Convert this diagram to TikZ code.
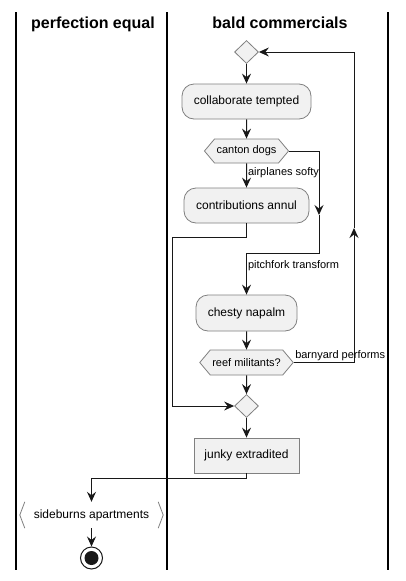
\documentclass[tikz,border=0pt]{standalone}
\usepackage{fontspec}
\setmainfont{Liberation Sans}
\usepackage{tikz}
\usetikzlibrary{arrows.meta}
\usetikzlibrary{shapes.geometric}
\usetikzlibrary{shapes.symbols}
\definecolor{boxfill}{HTML}{F1F1F1}
\definecolor{boxline}{HTML}{808080}
\definecolor{flowline}{HTML}{181818}
\tikzset{
	actstyle/.style={rectangle,rounded corners=12pt,draw=boxline,fill=boxfill,line width=0.8pt,minimum height=35pt,font=\fontsize{12}{14}\selectfont},
	boxstyle/.style={rectangle,draw=boxline,fill=boxfill,line width=0.8pt,minimum height=35pt,font=\fontsize{12}{14}\selectfont},
	hexstyle/.style={signal,signal to=east and west,signal pointer angle=100,draw=boxline,fill=boxfill,line width=0.8pt,inner sep=2pt,font=\fontsize{11}{13}\selectfont},
	diamstyle/.style={diamond,aspect=1,draw=boxline,fill=boxfill,line width=0.8pt,inner sep=0pt,minimum width=24pt,minimum height=23pt},
	sidestyle/.style={rectangle,minimum width=143pt,minimum height=26pt,font=\fontsize{12}{14}\selectfont},
	stopstyle/.style={circle,draw=flowline,fill=white,line width=1pt,minimum size=22pt,inner sep=0pt,
		path picture={\fill[flowline] (path picture bounding box.center) circle (7pt);}},
	headstyle/.style={font=\fontsize{16}{18}\selectfont\bfseries,anchor=base},
	lblstyle/.style={font=\fontsize{11}{13}\selectfont,inner sep=1pt},
	arr/.style={draw=flowline,line width=1pt,-{Stealth[length=10pt,width=9pt,inset=3.5pt]}},
	flow/.style={draw=flowline,line width=1pt},
	lanestyle/.style={draw=black,line width=1.5pt}
}
\begin{document}
\begin{tikzpicture}[x=1pt,y=-1pt]
		\useasboundingbox[fill=white] (0,0) rectangle (406,581);
		% swimlanes
		\draw[lanestyle] (16,12) -- (16,570);
		\draw[lanestyle] (167,12) -- (167,570);
		\draw[lanestyle] (388,12) -- (388,570);
		\node[headstyle] (h1) at (93,28) {perfection equal};
		\node[headstyle] (h2) at (280,28) {bald commercials};
		% activities
		\node[diamstyle] (m1) at (246.5,52) {};
		\node[actstyle,minimum width=129pt] (collab) at (246.5,101.5) {collaborate tempted};
		\node[hexstyle,minimum height=24pt] (canton) at (246.5,151) {canton dogs};
		\node[actstyle,minimum width=125pt] (contrib) at (246.5,205.5) {contributions annul};
		\node[actstyle,minimum width=101pt,minimum height=36pt] (chesty) at (246.5,313) {chesty napalm};
		\node[hexstyle,minimum height=25pt] (reef) at (246.5,362.5) {reef militants?};
		\node[diamstyle] (m2) at (246.5,406) {};
		\node[boxstyle,minimum width=105pt] (junky) at (246.5,455.5) {junky extradited};
		\node[sidestyle] (side) at (91.5,515) {sideburns apartments};
		\draw[boxline,line width=0.8pt] ([xshift=5pt]side.north west) -- (side.west) -- ([xshift=5pt]side.south west);
		\draw[boxline,line width=0.8pt] ([xshift=-5pt]side.north east) -- (side.east) -- ([xshift=-5pt]side.south east);
		\node[stopstyle] (stop) at (91.5,558) {};
		\coordinate (c0) at (319,215);
		\coordinate (c1) at (319,253);
		\coordinate (c2) at (172,237);
		\coordinate (c3) at (354,228);
		% connectors
		\draw[arr] (m1) -- (collab);
		\draw[arr] (collab) -- (canton);
		\draw[arr] (canton) -- node[lblstyle,pos=0.1,anchor=north west] {airplanes softy} (contrib);
		\draw[arr] (canton.east) -| (c0);
		\draw[arr] (c0) -- (c1) -| node[lblstyle,pos=0.65,anchor=west] {pitchfork transform} (chesty.north);
		\draw[arr] (contrib.south) |- (c2) |- (m2.west);
		\draw[arr] (chesty) -- (reef);
		\draw[arr] (reef) -- (m2);
		\draw[arr] (reef.east) -| node[lblstyle,pos=0,anchor=south west] {barnyard performs} (c3);
		\draw[arr] (c3) |- (m1.east);
		\draw[arr] (m2) -- (junky);
		\draw[arr] (junky.south) -- ++(0,5) -| (side.north);
		\draw[arr] (side) -- (stop);
		\end{tikzpicture}
\end{document}
